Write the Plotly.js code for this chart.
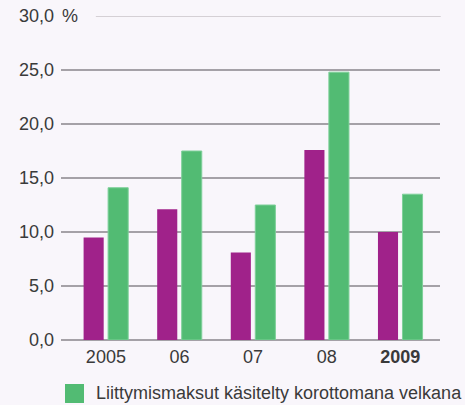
<!DOCTYPE html>
<html>
<head>
<meta charset="utf-8">
<script src="https://cdn.plot.ly/plotly-3.0.1.min.js"></script>
<style>
  html, body { margin: 0; padding: 0; background: #f9f6fb; }
  #chart { width: 465px; height: 405px; }
</style>
</head>
<body>
<div id="chart"></div>
<script>
// Data
const categories = ["2005", "06", "07", "08", "2009"];
const tickLabels = ["2005", "06", "07", "08", "<b>2009</b>"];
const magentaValues = [9.5, 12.1, 8.1, 17.6, 10.0];
const greenValues = [14.1, 17.5, 12.5, 24.8, 13.5];
const magentaName = "Liittymismaksut käsitelty omana pääomana";
const greenName = "Liittymismaksut käsitelty korottomana velkana";
const yTickVals = [0, 5, 10, 15, 20, 25, 30];
const yTickText = ["0,0", "5,0", "10,0", "15,0", "20,0", "25,0", "30,0"];
const yMax = 30;

const bg = "#f9f6fb";
const textColor = "#3a3a3a";
const font = "Liberation Sans, Arial, sans-serif";

const traces = [
  {
    type: "bar", x: categories, y: magentaValues, name: magentaName,
    marker: { color: "#a0228a" }, showlegend: false, hoverinfo: "skip"
  },
  {
    type: "bar", x: categories, y: greenValues, name: greenName,
    marker: { color: "#52bb73", line: { color: "#7fd09a", width: 1 } },
    showlegend: false, hoverinfo: "skip"
  }
];

const layout = {
  width: 465, height: 405,
  margin: { l: 61, r: 25, t: 16, b: 65 },
  paper_bgcolor: bg, plot_bgcolor: bg,
  barmode: "group", bargap: 0.334, bargroupgap: 0.18,
  font: { family: font, size: 18, color: textColor },
  showlegend: false,
  xaxis: {
    type: "category",
    range: [-0.61, 4.54],
    tickvals: categories, ticktext: tickLabels,
    showgrid: false, zeroline: false, showline: false, ticks: "",
    ticklabelstandoff: 4,
    tickfont: { family: font, size: 18, color: textColor },
    fixedrange: true
  },
  yaxis: {
    range: [0, yMax],
    tickvals: yTickVals, ticktext: yTickText,
    showgrid: true, gridcolor: "#a5a1a7", gridwidth: 1.5,
    zeroline: true, zerolinecolor: "#a5a1a7", zerolinewidth: 1.5,
    showline: false, ticks: "",
    ticklabelstandoff: 6,
    tickfont: { family: font, size: 18, color: textColor },
    fixedrange: true
  },
  shapes: [
    // top gridline (lighter, shortened to leave room for the % unit)
    { type: "line", xref: "paper", yref: "y", x0: 0.092, x1: 1.002, y0: yMax, y1: yMax,
      line: { color: "#c8c3c9", width: 1.6 }, layer: "above" },
    // legend swatch
    { type: "rect", xref: "paper", yref: "paper", x0: 0.0106, x1: 0.0607, y0: -0.1944, y1: -0.1358,
      fillcolor: "#52bb73", line: { width: 0 } }
  ],
  annotations: [
    { text: "%", xref: "paper", yref: "y", x: -0.002, y: yMax, xanchor: "left", yanchor: "middle",
      showarrow: false, font: { family: font, size: 18, color: textColor } },
    { text: greenName, xref: "paper", yref: "paper", x: 0.087, y: -0.1636, xanchor: "left", yanchor: "middle",
      showarrow: false, font: { family: font, size: 18, color: textColor } }
  ]
};

Plotly.newPlot("chart", traces, layout, { displayModeBar: false, staticPlot: true });
</script>
</body>
</html>
